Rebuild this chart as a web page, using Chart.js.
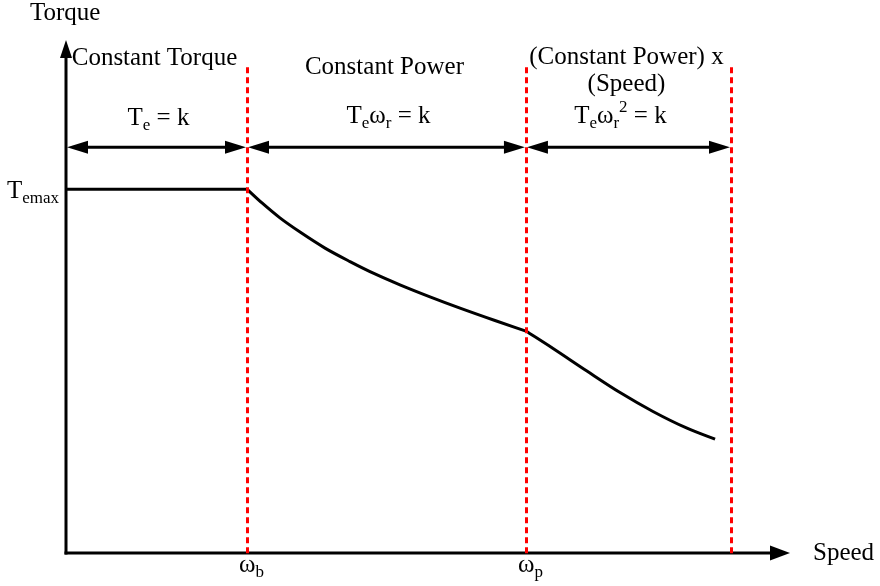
<!DOCTYPE html>
<html>
<head>
<meta charset="utf-8">
<script src="https://cdn.jsdelivr.net/npm/chart.js@4/dist/chart.umd.min.js"></script>
<style>
html,body{margin:0;padding:0;background:#fff;}
canvas{display:block;}
</style>
</head>
<body>
<canvas id="c" width="880" height="586"></canvas>
<script>
// ---- data (speed in units of ωb, torque in units of Temax) ----
const seg1Speed  = [0, 1.0];
const seg1Torque = [1.0, 1.0];
const seg2Speed  = [1.0, 1.083, 1.182, 1.293, 1.431, 1.569, 1.707, 1.845, 2.011, 2.177, 2.370, 2.541];
const seg2Torque = [1.0, 0.962, 0.921, 0.882, 0.838, 0.801, 0.767, 0.737, 0.704, 0.673, 0.639, 0.610];
const seg3Speed  = [2.541, 2.691, 2.878, 3.061, 3.243, 3.431, 3.586];
const seg3Torque = [0.610, 0.562, 0.500, 0.441, 0.389, 0.343, 0.313];

const boundaries   = [1.0, 2.541, 3.674];      // ωb, ωp, end of region 3
const tickSymbols  = ['ω', 'ω'];
const tickSubs     = ['b', 'p'];
const regionStarts = [0, 1.0, 2.541];
const regionEnds   = [1.0, 2.541, 3.674];
const regionTitles = [['Constant Torque'], ['Constant Power'], ['(Constant Power) x', '(Speed)']];
const regionFormulas = [
  [['T','n'],['e','sub'],[' = k','n']],
  [['T','n'],['e','sub'],['ω','n'],['r','sub'],[' = k','n']],
  [['T','n'],['e','sub'],['ω','n'],['r','sub'],['2','sup'],[' = k','n']]
];
const yAxisLabel = 'Torque';
const xAxisLabel = 'Speed';
const temaxValue = 1.0;

const toPts = (xs, ys) => xs.map((x, i) => ({x: x, y: ys[i]}));

const FONT = "'Liberation Serif', 'Times New Roman', serif";
const MAIN = 25, SUB = 17;

function richWidth(ctx, parts) {
  let w = 0;
  for (const [t, k] of parts) {
    ctx.font = (k === 'n' ? MAIN : SUB) + 'px ' + FONT;
    w += ctx.measureText(t).width;
  }
  return w;
}
function drawRich(ctx, parts, x, base, align) {
  const w = richWidth(ctx, parts);
  let cx = align === 'center' ? x - w / 2 : (align === 'right' ? x - w : x);
  ctx.textAlign = 'left';
  ctx.textBaseline = 'alphabetic';
  for (const [t, k] of parts) {
    ctx.font = (k === 'n' ? MAIN : SUB) + 'px ' + FONT;
    const dy = k === 'sub' ? 5 : (k === 'sup' ? -11 : 0);
    ctx.fillText(t, cx, base + dy);
    cx += ctx.measureText(t).width;
  }
}
function arrowHead(ctx, tx, ty, dx, dy, len, half) {
  const bx = tx - dx * len, by = ty - dy * len;
  const px = -dy, py = dx;
  ctx.beginPath();
  ctx.moveTo(tx, ty);
  ctx.lineTo(bx + px * half, by + py * half);
  ctx.lineTo(bx - px * half, by - py * half);
  ctx.closePath();
  ctx.fill();
}

const diagram = {
  id: 'diagram',
  beforeDatasetsDraw(chart) {
    const {ctx, scales: {x, y}} = chart;
    const x0 = x.getPixelForValue(0), y0 = y.getPixelForValue(0);
    const xEnd = x.right, yTop = y.top;
    ctx.save();
    ctx.strokeStyle = '#000'; ctx.fillStyle = '#000';
    ctx.lineWidth = 3; ctx.lineCap = 'butt';
    ctx.beginPath(); ctx.moveTo(x0, y0 + 1.5); ctx.lineTo(x0, yTop + 12); ctx.stroke();
    arrowHead(ctx, x0, yTop, 0, -1, 18, 6);
    ctx.beginPath(); ctx.moveTo(x0 - 1.5, y0); ctx.lineTo(xEnd - 12, y0); ctx.stroke();
    arrowHead(ctx, xEnd, y0, 1, 0, 20, 7.5);
    const ay = y.getPixelForValue(1.115);
    for (let i = 0; i < regionStarts.length; i++) {
      const a = x.getPixelForValue(regionStarts[i]);
      const b = x.getPixelForValue(regionEnds[i]);
      ctx.beginPath(); ctx.moveTo(a + 10, ay); ctx.lineTo(b - 10, ay); ctx.stroke();
      arrowHead(ctx, a + 1, ay, -1, 0, 21, 6.5);
      arrowHead(ctx, b - 1, ay, 1, 0, 21, 6.5);
    }
    ctx.restore();
  },
  afterDraw(chart) {
    const {ctx, scales: {x, y}} = chart;
    const y0 = y.getPixelForValue(0);
    ctx.save();
    ctx.strokeStyle = '#ff0000'; ctx.lineWidth = 3;
    ctx.setLineDash([6, 4]);
    const yTopLine = y.getPixelForValue(1.335);
    for (const b of boundaries) {
      const px = Math.round(x.getPixelForValue(b)) + 0.5;
      ctx.beginPath(); ctx.moveTo(px, yTopLine); ctx.lineTo(px, y0 + 1); ctx.stroke();
    }
    ctx.setLineDash([]);
    ctx.fillStyle = '#000';
    drawRich(ctx, [[yAxisLabel, 'n']], 30, 20, 'left');
    drawRich(ctx, [[xAxisLabel, 'n']], 813, 560, 'left');
    const tp = y.getPixelForValue(temaxValue);
    drawRich(ctx, [['T', 'n'], ['emax', 'sub']], 7, tp + 9, 'left');
    for (let i = 0; i < tickSymbols.length; i++) {
      const px = x.getPixelForValue(boundaries[i]);
      drawRich(ctx, [[tickSymbols[i], 'n'], [tickSubs[i], 'sub']], px - 8, 572, 'left');
    }
    const titleBases = [[65], [74], [64, 91]];
    const formulaBases = [125, 123, 123];
    for (let i = 0; i < regionTitles.length; i++) {
      const cx = (x.getPixelForValue(regionStarts[i]) + x.getPixelForValue(regionEnds[i])) / 2;
      regionTitles[i].forEach((t, j) => drawRich(ctx, [[t, 'n']], cx - 2, titleBases[i][j], 'center'));
      drawRich(ctx, regionFormulas[i], cx + (i === 2 ? -8 : 2), formulaBases[i], 'center');
    }
    ctx.restore();
  }
};

const lineStyle = {borderColor: '#000', borderWidth: 3, pointRadius: 0, fill: false, cubicInterpolationMode: 'monotone'};

new Chart(document.getElementById('c'), {
  type: 'line',
  data: {
    datasets: [
      Object.assign({data: toPts(seg1Speed, seg1Torque)}, lineStyle),
      Object.assign({data: toPts(seg2Speed, seg2Torque)}, lineStyle),
      Object.assign({data: toPts(seg3Speed, seg3Torque)}, lineStyle)
    ]
  },
  options: {
    responsive: false,
    animation: false,
    devicePixelRatio: 1,
    layout: {padding: {left: 66, right: 90, top: 40, bottom: 33}},
    plugins: {legend: {display: false}, tooltip: {enabled: false}, title: {display: false}},
    scales: {
      x: {type: 'linear', min: 0, max: 4.0, display: false},
      y: {type: 'linear', min: 0, max: 1.41, display: false}
    }
  },
  plugins: [diagram]
});
</script>
</body>
</html>
